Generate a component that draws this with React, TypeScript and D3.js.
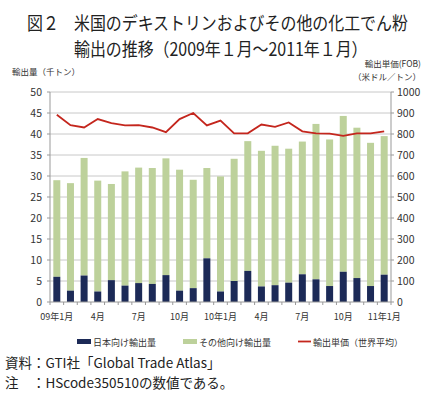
import React from "react";
import * as d3 from "d3";

const months = [
  "09-01","09-02","09-03","09-04","09-05","09-06","09-07","09-08","09-09","09-10","09-11","09-12",
  "10-01","10-02","10-03","10-04","10-05","10-06","10-07","10-08","10-09","10-10","10-11","10-12","11-01",
];
const japan = [6.0,2.7,6.3,2.5,5.2,3.9,4.5,4.3,6.4,2.7,3.3,10.4,2.5,5.0,7.4,3.7,4.0,4.6,6.6,5.4,3.8,7.2,5.7,3.8,6.5];
const total = [29.0,28.3,34.3,28.9,28.1,31.1,32.0,31.9,34.2,31.5,29.1,31.9,29.9,34.1,38.3,36.0,37.2,36.5,38.2,42.4,38.7,44.3,41.5,37.9,39.5];
const price = [892,842,831,871,852,841,842,831,809,871,900,841,864,803,803,845,834,855,813,803,802,791,803,803,813];
const xLabels: { [k: string]: string } = {
  "09-01": "09年1月", "09-04": "4月", "09-07": "7月", "09-10": "10月",
  "10-01": "10年1月", "10-04": "4月", "10-07": "7月", "10-10": "10月", "11-01": "11年1月",
};
const leftTicks = [0,5,10,15,20,25,30,35,40,45,50];
const rightTicks = [0,100,200,300,400,500,600,700,800,900,1000];

const NAVY = "#1c2a57";
const GREEN = "#bdd19b";
const RED = "#c4261d";
const FONT = "'Noto Sans CJK JP', 'Noto Sans', sans-serif";

export default function App() {
  const W = 429, H = 394;
  const L = 50, R = 391, T = 92, B = 302;
  const xb = d3.scaleBand<string>().domain(months).range([L, R]);
  const yL = d3.scaleLinear().domain([0, 50]).range([B, T]);
  const yR = d3.scaleLinear().domain([0, 1000]).range([B, T]);
  const line = d3.line<number>()
    .x((_, i) => (xb(months[i]) as number) + xb.bandwidth() / 2)
    .y((d) => yR(d));
  const bw = 7;
  const sx = 0.885;
  return (
    <svg width={W} height={H} style={{ position: "absolute", left: 0, top: 0, background: "#fff" }} fontFamily={FONT}>
      <rect width={W} height={H} fill="#fff" />
      <g transform={`translate(27,0) scale(${sx},1)`}>
        <text x={0} y={30} fontSize={18} fill="#222">図２</text>
        <text x={47 / sx} y={30} fontSize={18} fill="#222">米国のデキストリンおよびその他の化工でん粉</text>
        <text x={47 / sx} y={56.5} fontSize={18} fill="#222">輸出の推移（2009年１月～2011年１月）</text>
      </g>

      <text x={12} y={75} fontSize={8.5} fill="#333">輸出量（千トン）</text>
      <text x={421} y={67} fontSize={8.5} fill="#333" textAnchor="end">輸出単価(FOB)</text>
      <text x={421} y={80} fontSize={8.5} fill="#333" textAnchor="end">（米ドル／トン）</text>

      {leftTicks.map((t) => (
        <g key={"g" + t}>
          {t > 0 && <line x1={L} x2={R} y1={yL(t)} y2={yL(t)} stroke="#c8c8c8" strokeWidth={1} />}
          <line x1={L - 3} x2={L} y1={yL(t)} y2={yL(t)} stroke="#999" />
          <text x={42} y={yL(t) + 4} fontSize={10.5} fill="#333" textAnchor="end">{t}</text>
        </g>
      ))}
      {rightTicks.map((t) => (
        <g key={"r" + t}>
          <line x1={R} x2={R + 3} y1={yR(t)} y2={yR(t)} stroke="#999" />
          <text x={397} y={yR(t) + 4} fontSize={10.5} fill="#333">{t}</text>
        </g>
      ))}

      {months.map((m, i) => {
        const cx = (xb(m) as number) + xb.bandwidth() / 2;
        return (
          <g key={m}>
            <rect x={cx - bw / 2} y={yL(total[i])} width={bw} height={yL(japan[i]) - yL(total[i])} fill={GREEN} />
            <rect x={cx - bw / 2} y={yL(japan[i])} width={bw} height={B - yL(japan[i])} fill={NAVY} />
          </g>
        );
      })}

      <line x1={L} x2={L} y1={T} y2={B} stroke="#999" />
      <line x1={R} x2={R} y1={T} y2={B} stroke="#999" />
      <line x1={L} x2={R} y1={B} y2={B} stroke="#999" />
      {months.map((m) => (
        <line key={"t" + m} x1={xb(m) as number} x2={xb(m) as number} y1={B} y2={B + 3} stroke="#999" />
      ))}
      <line x1={R} x2={R} y1={B} y2={B + 3} stroke="#999" />

      <path d={line(price) || ""} fill="none" stroke={RED} strokeWidth={1.8} />

      {months.map((m) =>
        xLabels[m] ? (
          <text key={"l" + m} x={(xb(m) as number) + xb.bandwidth() / 2} y={320} fontSize={9} fill="#333" textAnchor="middle">
            {xLabels[m]}
          </text>
        ) : null
      )}

      <rect x={77} y={339} width={14} height={5} fill={NAVY} />
      <text x={93} y={345.5} fontSize={9} fill="#333">日本向け輸出量</text>
      <rect x={183} y={339} width={14} height={5} fill={GREEN} />
      <text x={199} y={345.5} fontSize={9} fill="#333">その他向け輸出量</text>
      <line x1={298} x2={311} y1={341.5} y2={341.5} stroke={RED} strokeWidth={1.8} />
      <text x={313} y={345.5} fontSize={9} fill="#333">輸出単価（世界平均）</text>

      <text x={5} y={368} fontSize={13.5} fill="#222">資料：GTI社「Global Trade Atlas」</text>
      <text x={5} y={388} fontSize={13.5} fill="#222">注　：HScode350510の数値である。</text>
    </svg>
  );
}
